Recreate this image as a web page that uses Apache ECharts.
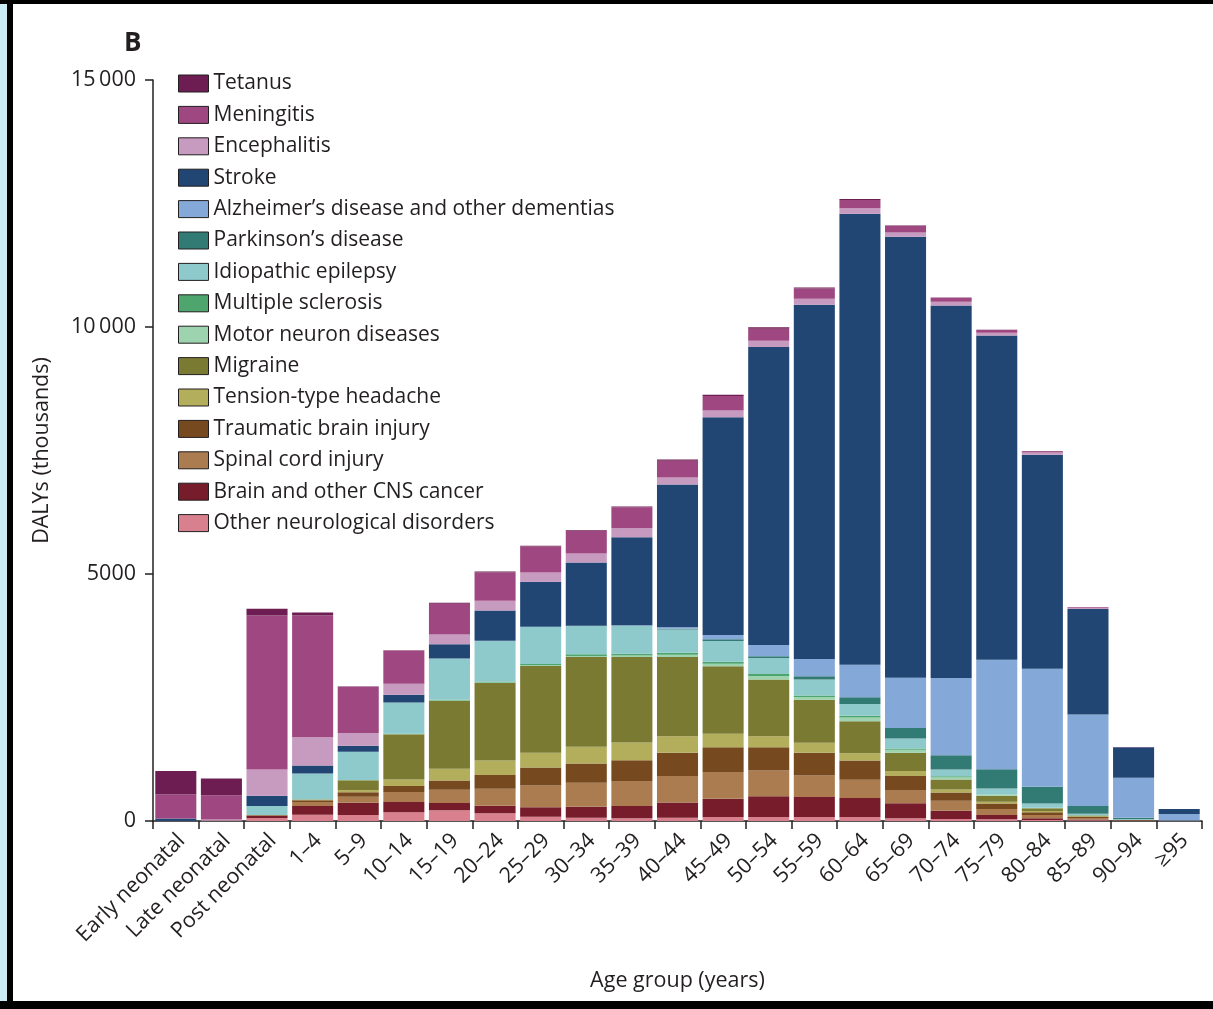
<!DOCTYPE html>
<html>
<head>
<meta charset="utf-8">
<script src="https://cdn.jsdelivr.net/npm/echarts@6/dist/echarts.min.js"></script>
<style>
html,body{margin:0;padding:0;background:#fff;}
#wrap{position:relative;width:1213px;height:1009px;overflow:hidden;background:#fff;}
#chart{position:absolute;left:0;top:0;width:1213px;height:1009px;}
.bar{position:absolute;background:#000;}
</style>
</head>
<body>
<div id="wrap">
<div id="chart"></div>
<div class="bar" style="left:0;top:0;width:7px;height:1009px;background:#c9ecf7;"></div>
<div class="bar" style="left:7px;top:0;width:6px;height:1009px;"></div>
<div class="bar" style="left:0;top:0;width:1213px;height:4px;"></div>
<div class="bar" style="left:0;top:1001px;width:1213px;height:8px;"></div>
</div>
<script>
const categories = ["Early neonatal","Late neonatal","Post neonatal","1–4","5–9","10–14","15–19","20–24","25–29","30–34","35–39","40–44","45–49","50–54","55–59","60–64","65–69","70–74","75–79","80–84","85–89","90–94","≥95"];

const yTicks = [0, 5000, 10000, 15000];

// values in thousands of DALYs, bottom of stack first
const otherNeuro   = [0,10,60,128,120,176,216,155,87,67,54,67,81,81,81,81,54,40,34,20,15,5,2];
const brainCancer  = [0,0,40,175,250,208,148,155,189,222,249,310,370,418,404,384,303,168,87,34,15,3,1];
const spinalCord   = [0,0,10,81,120,202,269,343,444,485,505,532,539,525,438,370,269,202,121,67,30,5,1];
const traumaticBI  = [0,0,10,34,90,121,189,276,364,390,424,471,505,471,458,390,283,168,114,54,25,5,1];
const tensionHead  = [0,0,0,5,45,135,236,296,296,337,357,337,269,222,202,148,101,61,34,27,10,2,0];
const migraine     = [0,0,0,10,200,915,1373,1569,1757,1818,1731,1602,1367,1145,869,646,370,202,121,54,15,2,0];
const motorNeuron  = [0,0,2,5,5,5,8,12,15,22,30,45,54,75,60,75,60,47,20,10,3,1,0];
const multScler    = [0,0,0,0,2,5,15,20,25,32,37,42,40,39,27,39,27,20,7,3,1,0,0];
const epilepsy     = [0,0,182,525,570,632,835,821,754,572,559,471,418,323,323,236,202,135,121,87,34,10,2];
const parkinson    = [0,0,0,0,0,0,0,2,3,5,8,15,34,34,67,135,215,289,390,337,155,34,5];
const alzheimer    = [0,0,0,0,0,0,0,0,0,3,8,30,87,229,350,660,1016,1562,2215,2390,1852,808,128];
const stroke       = [50,0,209,162,120,155,289,613,909,1279,1784,2889,4410,6033,7171,9130,8928,7541,6565,4329,2135,620,101];
const encephalitis = [0,20,532,572,260,222,196,195,188,182,182,141,135,128,121,108,87,74,54,45,20,0,0];
const meningitis   = [485,491,3117,2464,930,673,626,572,525,458,424,343,296,242,209,168,128,81,54,30,15,3,1];
const tetanus      = [478,337,135,61,10,10,20,20,15,15,15,25,25,30,20,20,13,8,5,3,1,0,0];

const stackOrder = [
  ["Other neurological disorders", otherNeuro, "#d9808e"],
  ["Brain and other CNS cancer", brainCancer, "#761c2a"],
  ["Spinal cord injury", spinalCord, "#aa7c50"],
  ["Traumatic brain injury", traumaticBI, "#764a1e"],
  ["Tension-type headache", tensionHead, "#b2ae5c"],
  ["Migraine", migraine, "#7b7a33"],
  ["Motor neuron diseases", motorNeuron, "#9dd3ae"],
  ["Multiple sclerosis", multScler, "#4ea56e"],
  ["Idiopathic epilepsy", epilepsy, "#8ecacb"],
  ["Parkinson’s disease", parkinson, "#327a74"],
  ["Alzheimer’s disease and other dementias", alzheimer, "#84a8d8"],
  ["Stroke", stroke, "#214674"],
  ["Encephalitis", encephalitis, "#c79ac0"],
  ["Meningitis", meningitis, "#9e4781"],
  ["Tetanus", tetanus, "#6e1d52"]
];

const FONT = "Open Sans";
const TXT = "#231f20";

const series = stackOrder.map(([name, data, color]) => ({
  name, type: "bar", stack: "total", data,
  barCategoryGap: "10%",
  itemStyle: { color },
  emphasis: { disabled: true }
}));

const chart = echarts.init(document.getElementById("chart"), null, { renderer: "canvas" });
chart.setOption({
  animation: false,
  backgroundColor: "#fff",
  title: {
    text: "B", left: 119, top: 26,
    textStyle: { fontFamily: FONT, fontWeight: "bold", fontSize: 26, color: TXT }
  },
  legend: {
    data: stackOrder.map(s => s[0]).slice().reverse(),
    orient: "vertical", left: 178, top: 73, padding: 0,
    itemWidth: 30, itemHeight: 17, itemGap: 10.4,
    icon: "rect",
    itemStyle: { borderColor: "#231f20", borderWidth: 1 },
    textStyle: { fontFamily: FONT, fontSize: 21, color: TXT, lineHeight: 21 },
    selectedMode: false
  },
  grid: { left: 153, right: 11, top: 80, bottom: 188, containLabel: false },
  xAxis: {
    type: "category", data: categories,
    name: "Age group (years)", nameLocation: "middle", nameGap: 149,
    nameTextStyle: { fontFamily: FONT, fontSize: 21.5, color: TXT },
    axisLine: { lineStyle: { color: TXT, width: 1.5 } },
    axisTick: { show: true, length: 8, lineStyle: { color: TXT, width: 1.5 } },
    axisLabel: { rotate: 45, fontFamily: FONT, fontSize: 21.5, color: TXT, margin: 22, padding: [0, -8, 0, 0], interval: 0 }
  },
  yAxis: {
    type: "value", min: 0, max: 15000, interval: 5000,
    name: "DALYs (thousands)", nameLocation: "middle", nameGap: 100, nameRotate: 90,
    nameTextStyle: { fontFamily: FONT, fontSize: 21.5, color: TXT },
    axisLine: { show: true, lineStyle: { color: TXT, width: 1.5 } },
    axisTick: { show: true, length: 8, lineStyle: { color: TXT, width: 1.5 } },
    splitLine: { show: false },
    axisLabel: {
      fontFamily: FONT, fontSize: 21.5, color: TXT, margin: 17,
      formatter: v => yTicks.includes(v) ? (v >= 10000 ? String(v).slice(0, 2) + "\u2009" + String(v).slice(2) : String(v)) : ""
    }
  },
  series
});
</script>
</body>
</html>
